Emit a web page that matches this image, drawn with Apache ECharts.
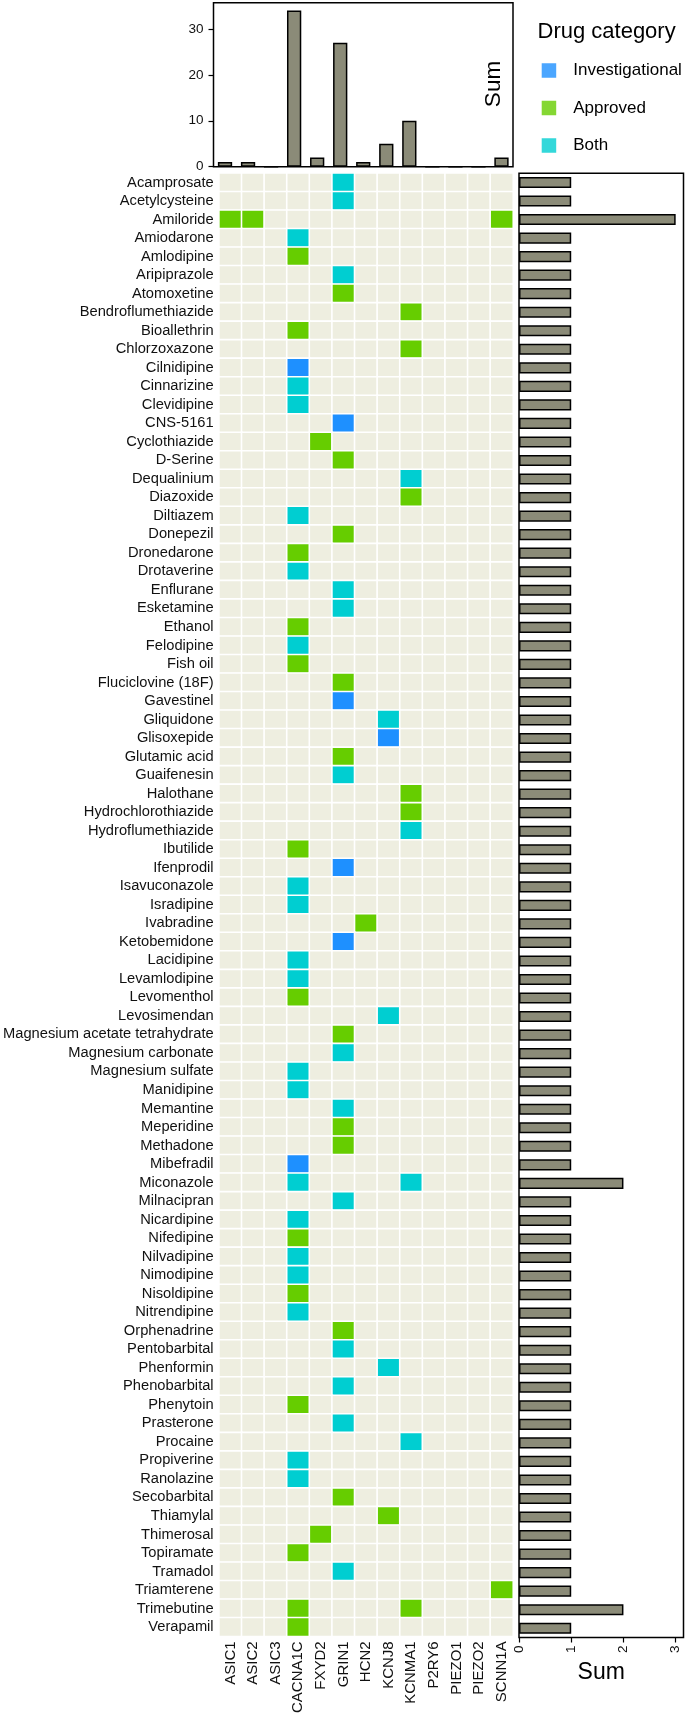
<!DOCTYPE html>
<html>
<head>
<meta charset="utf-8">
<script src="https://cdn.jsdelivr.net/npm/echarts@6/dist/echarts.min.js"></script>
<style>
html,body{margin:0;padding:0;background:#fff;}
#c{width:685px;height:1716px;}
</style>
</head>
<body>
<div id="c"></div>
<script>
const genes = ['ASIC1','ASIC2','ASIC3','CACNA1C','FXYD2','GRIN1','HCN2','KCNJ8','KCNMA1','P2RY6','PIEZO1','PIEZO2','SCNN1A'];
const drugs = ['Acamprosate','Acetylcysteine','Amiloride','Amiodarone','Amlodipine','Aripiprazole','Atomoxetine','Bendroflumethiazide','Bioallethrin','Chlorzoxazone','Cilnidipine','Cinnarizine','Clevidipine','CNS-5161','Cyclothiazide','D-Serine','Dequalinium','Diazoxide','Diltiazem','Donepezil','Dronedarone','Drotaverine','Enflurane','Esketamine','Ethanol','Felodipine','Fish oil','Fluciclovine (18F)','Gavestinel','Gliquidone','Glisoxepide','Glutamic acid','Guaifenesin','Halothane','Hydrochlorothiazide','Hydroflumethiazide','Ibutilide','Ifenprodil','Isavuconazole','Isradipine','Ivabradine','Ketobemidone','Lacidipine','Levamlodipine','Levomenthol','Levosimendan','Magnesium acetate tetrahydrate','Magnesium carbonate','Magnesium sulfate','Manidipine','Memantine','Meperidine','Methadone','Mibefradil','Miconazole','Milnacipran','Nicardipine','Nifedipine','Nilvadipine','Nimodipine','Nisoldipine','Nitrendipine','Orphenadrine','Pentobarbital','Phenformin','Phenobarbital','Phenytoin','Prasterone','Procaine','Propiverine','Ranolazine','Secobarbital','Thiamylal','Thimerosal','Topiramate','Tramadol','Triamterene','Trimebutine','Verapamil'];
const geneSums = [1,1,0,34,2,27,1,5,10,0,0,0,2];
const drugSums = [1,1,3,1,1,1,1,1,1,1, 1,1,1,1,1,1,1,1,1,1, 1,1,1,1,1,1,1,1,1,1, 1,1,1,1,1,1,1,1,1,1, 1,1,1,1,1,1,1,1,1,1, 1,1,1,1,2,1,1,1,1,1, 1,1,1,1,1,1,1,1,1,1, 1,1,1,1,1,1,1,2,1];
const categories = ['Investigational','Approved','Both'];
const categoryColors = ['#1E90FF','#66CD00','#00CED1'];
const investigational = [['Cilnidipine','CACNA1C'],['CNS-5161','GRIN1'],['Gavestinel','GRIN1'],['Glisoxepide','KCNJ8'],['Ifenprodil','GRIN1'],['Ketobemidone','GRIN1'],['Mibefradil','CACNA1C']];
const approved = [['Amiloride','ASIC1'],['Amiloride','ASIC2'],['Amiloride','SCNN1A'],['Amlodipine','CACNA1C'],['Atomoxetine','GRIN1'],['Bendroflumethiazide','KCNMA1'],['Bioallethrin','CACNA1C'],['Chlorzoxazone','KCNMA1'],['Cyclothiazide','FXYD2'],['D-Serine','GRIN1'],['Diazoxide','KCNMA1'],['Donepezil','GRIN1'],['Dronedarone','CACNA1C'],['Ethanol','CACNA1C'],['Fish oil','CACNA1C'],['Fluciclovine (18F)','GRIN1'],['Glutamic acid','GRIN1'],['Halothane','KCNMA1'],['Hydrochlorothiazide','KCNMA1'],['Ibutilide','CACNA1C'],['Ivabradine','HCN2'],['Levomenthol','CACNA1C'],['Magnesium acetate tetrahydrate','GRIN1'],['Meperidine','GRIN1'],['Methadone','GRIN1'],['Nifedipine','CACNA1C'],['Nisoldipine','CACNA1C'],['Orphenadrine','GRIN1'],['Phenytoin','CACNA1C'],['Secobarbital','GRIN1'],['Thiamylal','KCNJ8'],['Thimerosal','FXYD2'],['Topiramate','CACNA1C'],['Triamterene','SCNN1A'],['Trimebutine','CACNA1C'],['Trimebutine','KCNMA1'],['Verapamil','CACNA1C']];
const both = [['Acamprosate','GRIN1'],['Acetylcysteine','GRIN1'],['Amiodarone','CACNA1C'],['Aripiprazole','GRIN1'],['Cinnarizine','CACNA1C'],['Clevidipine','CACNA1C'],['Dequalinium','KCNMA1'],['Diltiazem','CACNA1C'],['Drotaverine','CACNA1C'],['Enflurane','GRIN1'],['Esketamine','GRIN1'],['Felodipine','CACNA1C'],['Gliquidone','KCNJ8'],['Guaifenesin','GRIN1'],['Hydroflumethiazide','KCNMA1'],['Isavuconazole','CACNA1C'],['Isradipine','CACNA1C'],['Lacidipine','CACNA1C'],['Levamlodipine','CACNA1C'],['Levosimendan','KCNJ8'],['Magnesium carbonate','GRIN1'],['Magnesium sulfate','CACNA1C'],['Manidipine','CACNA1C'],['Memantine','GRIN1'],['Miconazole','CACNA1C'],['Miconazole','KCNMA1'],['Milnacipran','GRIN1'],['Nicardipine','CACNA1C'],['Nilvadipine','CACNA1C'],['Nimodipine','CACNA1C'],['Nitrendipine','CACNA1C'],['Pentobarbital','GRIN1'],['Phenformin','KCNJ8'],['Phenobarbital','GRIN1'],['Prasterone','GRIN1'],['Procaine','KCNMA1'],['Propiverine','CACNA1C'],['Ranolazine','CACNA1C'],['Tramadol','GRIN1']];

// build heatmap matrix
const cellCat = {};
[investigational, approved, both].forEach((list, k) => {
  list.forEach(([d, g]) => { cellCat[d + '|' + g] = k + 1; });
});
const heatData = [];
drugs.forEach((d, di) => {
  genes.forEach((g, gi) => {
    heatData.push([gi, di, cellCat[d + '|' + g] || 0]);
  });
});

const FONT = "'Liberation Sans', Arial, Helvetica, sans-serif";
const BAR_FILL = '#8b8b78';

const gridL = 213.5, gridW = 299.5;
const hmTop = 173.2, hmH = 1464.3;

const chart = echarts.init(document.getElementById('c'), null, {renderer: 'canvas'});
chart.setOption({
  animation: false,
  backgroundColor: '#fff',
  textStyle: {fontFamily: FONT},
  grid: [
    {left: gridL, top: 2.7, width: gridW, height: 164, show: true, borderColor: '#000', borderWidth: 1.5, backgroundColor: 'transparent', containLabel: false},
    {left: gridL, top: hmTop, width: gridW, height: hmH, show: false, containLabel: false},
    {left: 519, top: hmTop, width: 164.5, height: hmH, show: true, borderColor: '#000', borderWidth: 1.5, backgroundColor: 'transparent', containLabel: false}
  ],
  xAxis: [
    {gridIndex: 0, type: 'category', data: genes, axisLabel: {show: false}, axisTick: {show: false}, axisLine: {show: false}},
    {gridIndex: 1, type: 'category', data: genes, position: 'bottom', axisLine: {show: false}, axisTick: {show: false},
      axisLabel: {rotate: 90, fontSize: 15, color: '#111', margin: 5, fontFamily: FONT, interval: 0}},
    {gridIndex: 2, type: 'value', min: 0, max: 3.15, axisLine: {show: false}, splitLine: {show: false},
      axisTick: {show: true, length: 5, lineStyle: {color: '#000', width: 1.2}, customValues: [0, 1, 2, 3]},
      axisLabel: {rotate: 90, fontSize: 13.5, color: '#111', margin: 8, fontFamily: FONT, customValues: [0, 1, 2, 3]},
      name: 'Sum', nameLocation: 'middle', nameGap: 21, nameTextStyle: {fontSize: 23, color: '#000', fontFamily: FONT}}
  ],
  yAxis: [
    {gridIndex: 0, type: 'value', min: 0, max: 35.7, axisLine: {show: false}, splitLine: {show: false},
      axisTick: {show: true, length: 5, lineStyle: {color: '#000', width: 1.2}, customValues: [0, 10, 20, 30]},
      axisLabel: {fontSize: 13.5, color: '#111', margin: 10, fontFamily: FONT, customValues: [0, 10, 20, 30]}},
    {gridIndex: 1, type: 'category', data: drugs, inverse: true, axisLine: {show: false}, axisTick: {show: false},
      axisLabel: {fontSize: 14.7, color: '#111', margin: 5.5, fontFamily: FONT, interval: 0}},
    {gridIndex: 2, type: 'category', data: drugs, inverse: true, axisLine: {show: false}, axisTick: {show: false}, axisLabel: {show: false}}
  ],
  visualMap: {
    type: 'piecewise', show: false, seriesIndex: 1, dimension: 2,
    pieces: [
      {value: 0, color: '#EEEEE0'},
      {value: 1, color: categoryColors[0]},
      {value: 2, color: categoryColors[1]},
      {value: 3, color: categoryColors[2]}
    ]
  },
  legend: {
    data: categories, orient: 'vertical', left: 541.7, top: 62, padding: 0,
    itemWidth: 14.5, itemHeight: 14.5, itemGap: 20.5, icon: 'rect', selectedMode: false,
    textStyle: {fontSize: 17, color: '#000', fontFamily: FONT, padding: [0, 0, 0, 12]}
  },
  graphic: [
    {type: 'text', x: 537.5, y: 31.5, style: {text: 'Drug category', fontSize: 22, fill: '#000', fontFamily: FONT, verticalAlign: 'middle', align: 'left'}},
    {type: 'text', x: 493.5, y: 84, rotation: Math.PI / 2, style: {text: 'Sum', fontSize: 22.5, fill: '#000', fontFamily: FONT, verticalAlign: 'middle', align: 'center'}}
  ],
  series: [
    {type: 'bar', xAxisIndex: 0, yAxisIndex: 0, data: geneSums, barWidth: '62%',
      itemStyle: {color: BAR_FILL, borderColor: '#000', borderWidth: 1.5}},
    {type: 'heatmap', xAxisIndex: 1, yAxisIndex: 1, data: heatData,
      itemStyle: {borderColor: '#fff', borderWidth: 1.6}, emphasis: {disabled: true}},
    {type: 'bar', xAxisIndex: 2, yAxisIndex: 2, data: drugSums, barWidth: '60%',
      itemStyle: {color: BAR_FILL, borderColor: '#000', borderWidth: 1.5}},
    {type: 'scatter', name: categories[0], xAxisIndex: 1, yAxisIndex: 1, data: [], itemStyle: {color: categoryColors[0]}},
    {type: 'scatter', name: categories[1], xAxisIndex: 1, yAxisIndex: 1, data: [], itemStyle: {color: categoryColors[1]}},
    {type: 'scatter', name: categories[2], xAxisIndex: 1, yAxisIndex: 1, data: [], itemStyle: {color: categoryColors[2]}}
  ]
});
</script>
</body>
</html>
